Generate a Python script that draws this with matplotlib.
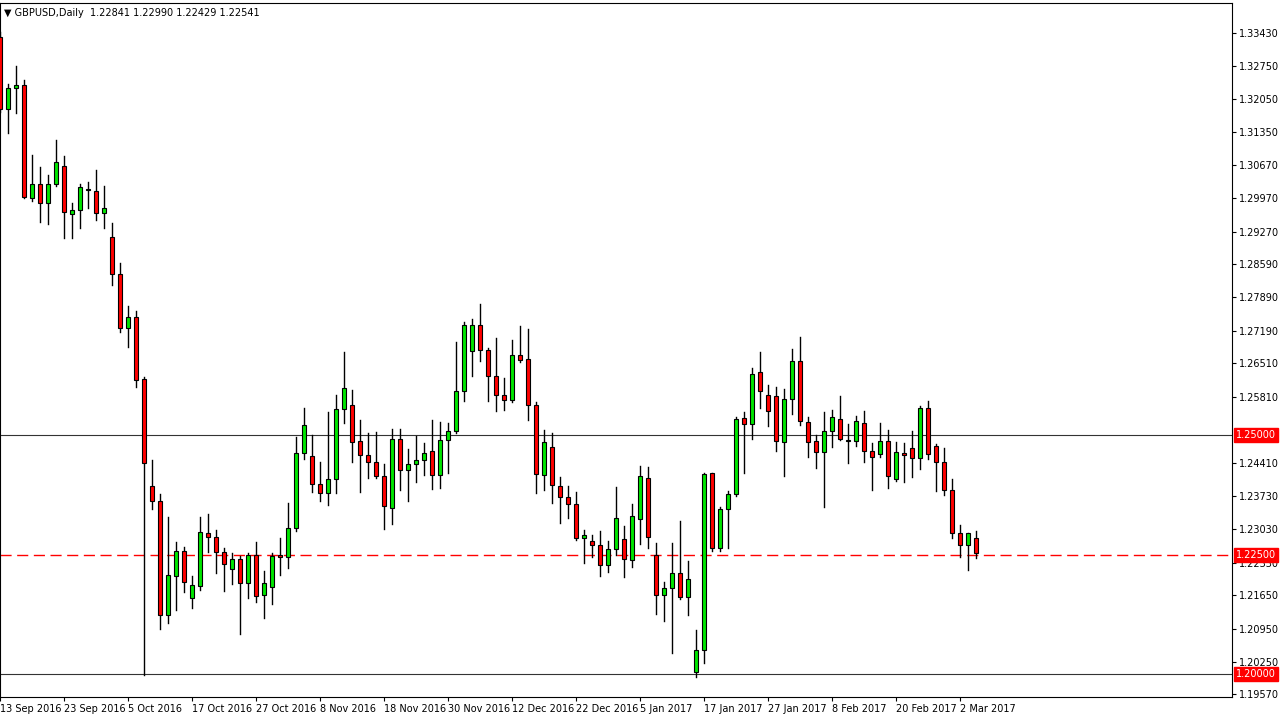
import matplotlib
matplotlib.use("Agg")
import matplotlib.pyplot as plt
from matplotlib.patches import Rectangle

opens = [1.3335,1.3184,1.3228,1.3235,1.2997,1.3026,1.2986,1.3026,1.3065,1.2963,
 1.2972,1.3015,1.3013,1.2965,1.2915,1.2838,1.2725,1.2748,1.2617,1.2393,
 1.2362,1.2124,1.2205,1.2258,1.2160,1.2185,1.2295,1.2287,1.2256,1.2220,
 1.2241,1.2191,1.2249,1.2166,1.2182,1.2249,1.2245,1.2306,1.2462,1.2456,
 1.2397,1.2379,1.2408,1.2556,1.2564,1.2487,1.2458,1.2445,1.2414,1.2347,
 1.2493,1.2427,1.2439,1.2448,1.2468,1.2416,1.2491,1.2508,1.2592,1.2677,
 1.2731,1.2679,1.2625,1.2585,1.2575,1.2669,1.2660,1.2564,1.2416,1.2475,
 1.2393,1.2370,1.2356,1.2285,1.2278,1.2270,1.2228,1.2262,1.2283,1.2239,
 1.2324,1.2410,1.2249,1.2166,1.2180,1.2212,1.2162,1.2003,1.2049,1.2420,
 1.2264,1.2345,1.2377,1.2537,1.2523,1.2633,1.2585,1.2583,1.2485,1.2577,
 1.2656,1.2527,1.2487,1.2466,1.2510,1.2535,1.2489,1.2489,1.2525,1.2468,
 1.2460,1.2489,1.2408,1.2462,1.2473,1.2452,1.2558,1.2477,1.2445,1.2385,
 1.2295,1.2270,1.22841]
highs = [1.3345,1.3237,1.3274,1.3245,1.3088,1.3063,1.3045,1.3118,1.3086,1.2986,
 1.3026,1.3030,1.3055,1.3022,1.2944,1.2861,1.2771,1.2761,1.2623,1.2448,
 1.2377,1.2329,1.2276,1.2266,1.2205,1.2329,1.2335,1.2301,1.2264,1.2253,
 1.2247,1.2253,1.2276,1.2216,1.2253,1.2285,1.2358,1.2496,1.2558,1.2500,
 1.2443,1.2548,1.2585,1.2675,1.2594,1.2531,1.2504,1.2506,1.2439,1.2514,
 1.2514,1.2471,1.2498,1.2483,1.2533,1.2527,1.2525,1.2696,1.2738,1.2744,
 1.2775,1.2683,1.2704,1.2621,1.2700,1.2729,1.2723,1.2569,1.2512,1.2504,
 1.2412,1.2393,1.2381,1.2301,1.2291,1.2299,1.2278,1.2391,1.2310,1.2356,
 1.2435,1.2433,1.2274,1.2193,1.2274,1.2320,1.2237,1.2091,1.2420,1.2420,
 1.2349,1.2383,1.2539,1.2548,1.2640,1.2675,1.2606,1.2602,1.2598,1.2681,
 1.2706,1.2539,1.2500,1.2548,1.2552,1.2583,1.2523,1.2541,1.2550,1.2483,
 1.2525,1.2512,1.2485,1.2483,1.2510,1.2562,1.2571,1.2481,1.2473,1.2408,
 1.2312,1.2295,1.22990]
lows = [1.3178,1.3134,1.3176,1.2997,1.2992,1.2946,1.2942,1.3022,1.2913,1.2913,
 1.2934,1.2976,1.2951,1.2934,1.2815,1.2717,1.2686,1.2602,1.1997,1.2345,
 1.2093,1.2107,1.2134,1.2172,1.2139,1.2176,1.2256,1.2212,1.2174,1.2189,
 1.2084,1.2160,1.2151,1.2118,1.2147,1.2208,1.2222,1.2299,1.2450,1.2381,
 1.2362,1.2354,1.2379,1.2525,1.2443,1.2381,1.2410,1.2410,1.2304,1.2314,
 1.2385,1.2362,1.2402,1.2416,1.2387,1.2389,1.2420,1.2504,1.2571,1.2625,
 1.2656,1.2571,1.2550,1.2554,1.2569,1.2654,1.2531,1.2379,1.2385,1.2358,
 1.2316,1.2327,1.2281,1.2233,1.2245,1.2205,1.2214,1.2249,1.2203,1.2224,
 1.2272,1.2264,1.2126,1.2111,1.2043,1.2157,1.2124,1.1993,1.2022,1.2258,
 1.2258,1.2264,1.2372,1.2420,1.2493,1.2558,1.2519,1.2468,1.2414,1.2544,
 1.2521,1.2454,1.2431,1.2349,1.2475,1.2491,1.2441,1.2477,1.2443,1.2385,
 1.2454,1.2389,1.2404,1.2402,1.2412,1.2429,1.2450,1.2383,1.2374,1.2285,
 1.2245,1.2218,1.22429]
closes = [1.3184,1.3228,1.3235,1.2999,1.3026,1.2986,1.3026,1.3072,1.2969,1.2972,
 1.3020,1.3016,1.2965,1.2976,1.2838,1.2725,1.2748,1.2615,1.2441,1.2362,
 1.2124,1.2208,1.2258,1.2193,1.2187,1.2297,1.2287,1.2256,1.2230,1.2241,
 1.2191,1.2249,1.2164,1.2191,1.2247,1.2245,1.2306,1.2462,1.2521,1.2397,
 1.2379,1.2408,1.2556,1.2600,1.2485,1.2458,1.2443,1.2414,1.2352,1.2493,
 1.2427,1.2439,1.2448,1.2462,1.2416,1.2491,1.2508,1.2592,1.2731,1.2731,
 1.2679,1.2625,1.2585,1.2575,1.2669,1.2658,1.2564,1.2418,1.2485,1.2395,
 1.2370,1.2356,1.2285,1.2291,1.2270,1.2228,1.2262,1.2327,1.2241,1.2331,
 1.2414,1.2287,1.2166,1.2180,1.2212,1.2162,1.2199,1.2049,1.2418,1.2264,
 1.2345,1.2377,1.2535,1.2523,1.2629,1.2592,1.2550,1.2487,1.2577,1.2656,
 1.2529,1.2485,1.2466,1.2508,1.2539,1.2493,1.2490,1.2529,1.2468,1.2454,
 1.2489,1.2414,1.2464,1.2458,1.2452,1.2558,1.2460,1.2445,1.2385,1.2295,
 1.2270,1.2295,1.22541]

date_labels = ["13 Sep 2016","23 Sep 2016","5 Oct 2016","17 Oct 2016","27 Oct 2016",
 "8 Nov 2016","18 Nov 2016","30 Nov 2016","12 Dec 2016","22 Dec 2016","5 Jan 2017",
 "17 Jan 2017","27 Jan 2017","8 Feb 2017","20 Feb 2017","2 Mar 2017"]
date_idx = [0,8,16,24,32,40,48,56,64,72,80,88,96,104,112,120]
price_ticks = [1.33430,1.32750,1.32050,1.31350,1.30670,1.29970,1.29270,1.28590,
 1.27890,1.27190,1.26510,1.25810,1.24410,1.23730,1.23030,1.22330,1.21650,
 1.20950,1.20250,1.19570]
levels_solid = [1.25, 1.20]
level_dashed = 1.225

W, H = 1281, 717
fig = plt.figure(figsize=(W/100, H/100), dpi=100)
ax = fig.add_axes([0, 20/H, 1232/W, 694/H])
fs = 7

for i, (o, h, l, c) in enumerate(zip(opens, highs, lows, closes)):
    col = '#00e600' if c >= o else '#ff0000'
    ax.plot([i, i], [l, h], color='black', lw=1, zorder=2)
    bot, top = min(o, c), max(o, c)
    ax.add_patch(Rectangle((i-0.3, bot), 0.6, max(top-bot, 0.00005),
                           facecolor=col, edgecolor='black', lw=0.8, zorder=3))

for lv in levels_solid:
    ax.axhline(lv, color='#333333', lw=0.8, zorder=1)
ax.axhline(level_dashed, color='red', lw=1, ls=(0, (8, 4)), zorder=1)

ax.set_xlim(0, 154)
ax.set_ylim(1.19515, 1.34060)
ax.yaxis.tick_right()
ax.set_yticks(price_ticks)
ax.set_yticklabels([f"{p:.5f}" for p in price_ticks], fontsize=fs)
ax.set_xticks(date_idx)
ax.set_xticklabels(date_labels, fontsize=fs, ha='left')
ax.tick_params(axis='both', length=3, width=0.8, pad=2)
for s in ax.spines.values():
    s.set_linewidth(0.8)

for lv in levels_solid + [level_dashed]:
    ax.text(1.003, lv, f"{lv:.5f}", transform=ax.get_yaxis_transform(), fontsize=fs,
            color='white', va='center', ha='left',
            bbox=dict(boxstyle='square,pad=0.2', fc='red', ec='red'))

ax.text(0.003, 0.993, "\u25BC GBPUSD,Daily  1.22841 1.22990 1.22429 1.22541",
        transform=ax.transAxes, fontsize=fs, va='top', ha='left')

fig.savefig("out.png", dpi=100)
